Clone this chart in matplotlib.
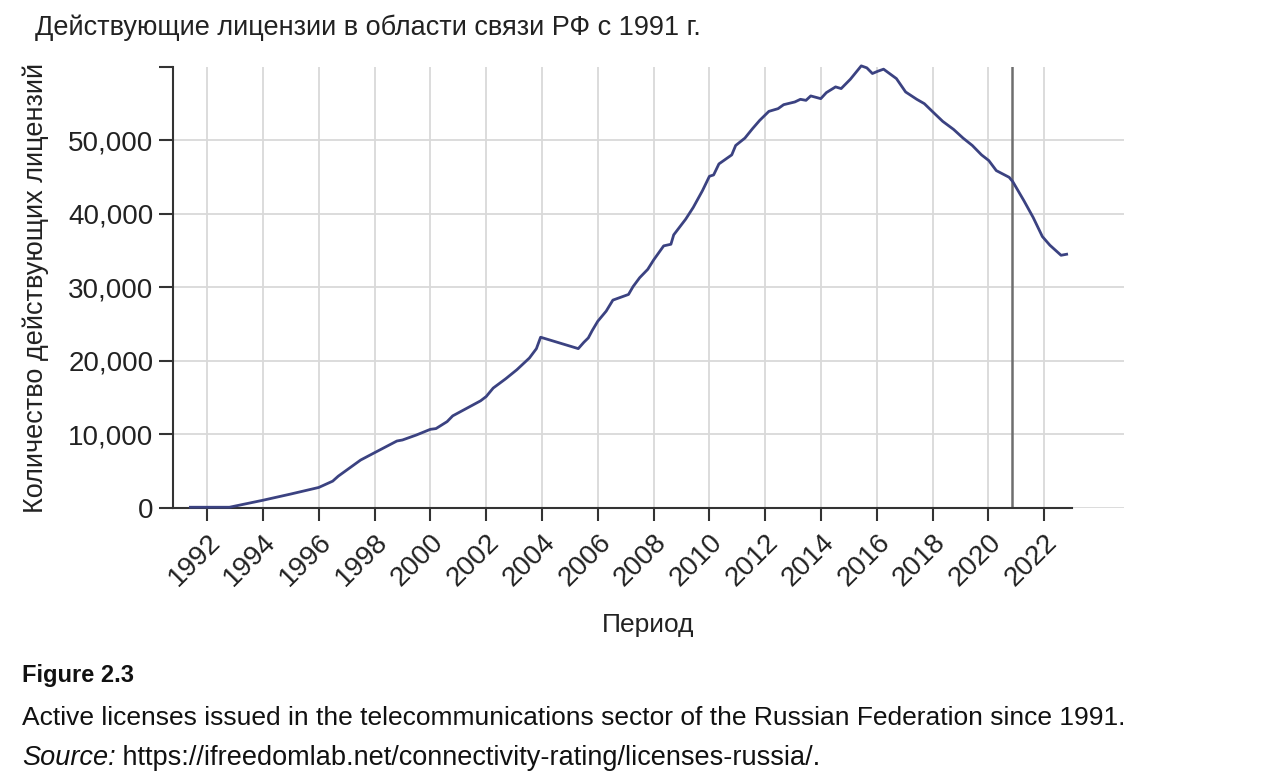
import numpy as np
import matplotlib
matplotlib.use('Agg')
import matplotlib.pyplot as plt

# ---------- data ----------
years = [1991.4, 1992.8, 1994.0, 1995.0, 1996.0, 1996.5, 1996.7, 1997.5, 1998.0,
         1998.8, 1999.0, 1999.5, 2000.0, 2000.2, 2000.6, 2000.8, 2001.8, 2002.0,
         2002.25, 2002.7, 2003.1, 2003.55, 2003.8, 2003.95, 2005.3, 2005.5,
         2005.66, 2005.8, 2006.0, 2006.3, 2006.54, 2007.1, 2007.26, 2007.5,
         2007.79, 2008.0, 2008.36, 2008.62, 2008.72, 2009.15, 2009.42, 2009.75,
         2010.0, 2010.15, 2010.34, 2010.8, 2010.94, 2011.27, 2011.54, 2011.8,
         2012.13, 2012.46, 2012.66, 2013.06, 2013.26, 2013.46, 2013.63, 2013.99,
         2014.19, 2014.52, 2014.72, 2015.05, 2015.44, 2015.64, 2015.84, 2016.04,
         2016.24, 2016.7, 2017.03, 2017.43, 2017.7, 2018.01, 2018.36, 2018.75,
         2019.09, 2019.42, 2019.75, 2020.01, 2020.28, 2020.74, 2020.87, 2021.27,
         2021.6, 2021.93, 2022.2, 2022.6, 2022.8]
licenses = [100, 100, 1050, 1900, 2790, 3650, 4330, 6520, 7520,
            9110, 9250, 9930, 10700, 10800, 11750, 12530, 14580, 15160,
            16310, 17580, 18810, 20410, 21680, 23230, 21680, 22540,
            23140, 24140, 25410, 26780, 28280, 29050, 30100, 31330,
            32470, 33740, 35660, 35880, 37160, 39300, 40890, 43170,
            45130, 45310, 46810, 48040, 49320, 50320, 51590, 52730,
            53960, 54330, 54870, 55240, 55600, 55460, 56060, 55690,
            56510, 57290, 57060, 58330, 60150, 59880, 59110, 59430,
            59700, 58420, 56600, 55600, 55010, 53870, 52600, 51500,
            50320, 49320, 48040, 47270, 45900, 44990, 44400, 41800,
            39530, 36930, 35750, 34380, 34520]
marker_year = 2020.83
tick_years = list(range(1992, 2023, 2))
y_ticks = [0, 10000, 20000, 30000, 40000, 50000, 60000]

title = 'Действующие лицензии в области связи РФ с 1991 г.'
y_label = 'Количество действующих лицензий'
x_label = 'Период'
fig_no = 'Figure 2.3'
caption = 'Active licenses issued in the telecommunications sector of the Russian Federation since 1991.'
source_lbl = 'Source:'
source_url = ' https://ifreedomlab.net/connectivity-rating/licenses-russia/.'

plt.rcParams['font.family'] = ['Liberation Sans', 'DejaVu Sans']
TXT = '#222222'

fig = plt.figure(figsize=(12.8, 7.76), dpi=100)
ax = fig.add_axes([0.135, 0.3454, 0.743, 0.5683])

ax.plot(years, licenses, color='#3b4281', lw=2.0, clip_on=False, zorder=3)
ax.axvline(marker_year, color='#6e6e6e', lw=1.8, zorder=2)

ax.set_xlim(1990.77, 2024.85)
ax.set_ylim(0, 60000)
ax.set_xticks(tick_years)
ax.set_xticklabels([str(y) for y in tick_years], rotation=45, ha='right',
                   rotation_mode='anchor', fontsize=20, color=TXT)
ax.set_yticks(y_ticks)
ax.set_yticklabels([f'{v:,}' for v in y_ticks[:-1]] + [''], fontsize=20, color=TXT)
ax.tick_params(axis='x', length=9, width=1.5, color='#333333', pad=6)
ax.tick_params(axis='y', length=10, width=1.5, color='#333333', pad=4)

ax.grid(True, color='#d9d9d9', lw=1.3, zorder=0)
ax.yaxis.get_gridlines()[-1].set_visible(False)
ax.set_axisbelow(True)

for s in ['top', 'right']:
    ax.spines[s].set_visible(False)
for s in ['left', 'bottom']:
    ax.spines[s].set_color('#333333')
    ax.spines[s].set_linewidth(1.5)
ax.spines['bottom'].set_bounds(1990.77, 2023.0)

fig.text(0.027, 0.964, title, fontsize=19.5, color=TXT, va='center')
fig.text(0.028, 0.629, y_label, fontsize=19.5, color=TXT, rotation=90,
         ha='center', va='center')
fig.text(0.506, 0.195, x_label, fontsize=19, color=TXT, ha='center', va='center')

fig.text(0.017, 0.129, fig_no, fontsize=17, weight='bold', color='#111111', va='center')
fig.text(0.017, 0.075, caption, fontsize=19, color='#111111', va='center')
src = fig.text(0.017, 0.023, source_lbl, fontsize=19.5, style='italic', color='#111111',
               va='center')
r = fig.canvas.get_renderer()
bb = src.get_window_extent(r)
fig.text(bb.x1 / fig.bbox.width, 0.023, source_url, fontsize=19.5, color='#111111',
         va='center')

fig.savefig('out.png', dpi=100)
